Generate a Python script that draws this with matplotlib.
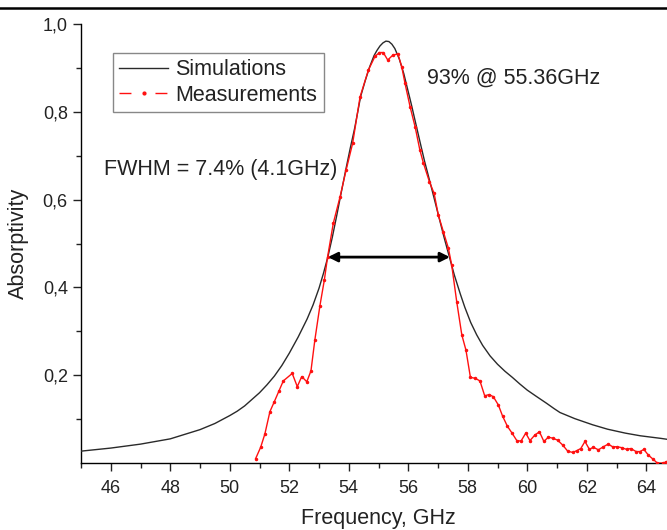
import matplotlib
matplotlib.use("Agg")
import matplotlib.pyplot as plt
from matplotlib.lines import Line2D
from matplotlib.ticker import FixedLocator, FuncFormatter

plt.rcParams['font.family'] = ['Liberation Sans', 'DejaVu Sans']

# Simulated absorptivity
sim_freq = [45.0, 46.0, 47.0, 48.0, 49.0, 49.5, 50.0, 50.25, 50.5, 50.75, 51.0, 51.25,
            51.5, 51.75, 52.0, 52.3, 52.6, 52.8, 53.0, 53.15, 53.3, 53.45, 53.6, 53.75,
            53.9, 54.05, 54.2, 54.4, 54.55, 54.7, 54.85, 54.95, 55.05, 55.15, 55.25,
            55.35, 55.45, 55.55, 55.7, 55.85, 56.1, 56.25, 56.4, 56.55, 56.75, 56.9,
            57.05, 57.2, 57.4, 57.55, 57.75, 57.9, 58.1, 58.3, 58.5, 58.75, 59.0, 59.25,
            59.5, 59.75, 60.0, 60.3, 60.65, 60.9, 61.1, 61.6, 62.2, 62.7, 63.3, 63.8,
            64.5, 65.0]
sim_abs = [0.027, 0.034, 0.043, 0.055, 0.076, 0.090, 0.108, 0.118, 0.130, 0.145, 0.160,
           0.178, 0.198, 0.222, 0.250, 0.287, 0.328, 0.360, 0.398, 0.432, 0.470, 0.515,
           0.565, 0.617, 0.668, 0.717, 0.763, 0.835, 0.870, 0.902, 0.928, 0.940, 0.950,
           0.957, 0.961, 0.960, 0.954, 0.944, 0.920, 0.887, 0.818, 0.774, 0.730, 0.687,
           0.635, 0.595, 0.555, 0.515, 0.465, 0.428, 0.385, 0.355, 0.320, 0.292, 0.268,
           0.244, 0.225, 0.209, 0.195, 0.180, 0.166, 0.152, 0.136, 0.124, 0.115, 0.101,
           0.087, 0.077, 0.068, 0.062, 0.056, 0.051]

# Measured absorptivity
meas_freq = [50.87, 51.04, 51.18, 51.35, 51.50, 51.66, 51.80, 52.10, 52.27, 52.42, 52.59,
             52.73, 52.86, 53.03, 53.18, 53.29, 53.48, 53.71, 53.91, 54.13, 54.38, 54.66,
             54.88, 55.03, 55.16, 55.31, 55.48, 55.65, 55.78, 55.89, 56.06, 56.23, 56.39,
             56.51, 56.71, 56.87, 57.01, 57.18, 57.35, 57.46, 57.63, 57.80, 57.94, 58.09,
             58.25, 58.41, 58.57, 58.72, 58.86, 59.03, 59.17, 59.33, 59.48, 59.65, 59.79,
             59.95, 60.09, 60.26, 60.41, 60.56, 60.71, 60.88, 61.02, 61.19, 61.36, 61.53,
             61.66, 61.80, 61.94, 62.09, 62.22, 62.39, 62.56, 62.72, 62.87, 63.03, 63.17,
             63.34, 63.48, 63.66, 63.79, 63.92, 64.07, 64.24, 64.37, 64.57, 64.68]
meas_abs = [0.010, 0.036, 0.066, 0.117, 0.140, 0.165, 0.187, 0.204, 0.174, 0.197, 0.185,
            0.210, 0.280, 0.358, 0.417, 0.470, 0.546, 0.607, 0.667, 0.728, 0.834, 0.895,
            0.926, 0.935, 0.935, 0.918, 0.929, 0.932, 0.903, 0.865, 0.812, 0.766, 0.713,
            0.683, 0.641, 0.614, 0.565, 0.527, 0.489, 0.451, 0.367, 0.292, 0.257, 0.195,
            0.193, 0.187, 0.153, 0.156, 0.151, 0.132, 0.107, 0.084, 0.069, 0.051, 0.050,
            0.068, 0.051, 0.064, 0.071, 0.049, 0.059, 0.056, 0.052, 0.041, 0.027, 0.024,
            0.028, 0.033, 0.049, 0.031, 0.036, 0.030, 0.037, 0.043, 0.037, 0.037, 0.035,
            0.031, 0.033, 0.026, 0.026, 0.031, 0.018, 0.008, 0.000, 0.000, 0.003]

x_major = [46, 48, 50, 52, 54, 56, 58, 60, 62, 64]
x_minor = [45, 47, 49, 51, 53, 55, 57, 59, 61, 63, 65]
y_major = [0.2, 0.4, 0.6, 0.8, 1.0]
y_minor = [0.1, 0.3, 0.5, 0.7, 0.9]

fwhm_left, fwhm_right, fwhm_level = 53.30, 57.40, 0.469

W, H = 667, 530
fig = plt.figure(figsize=(W / 100, H / 100), dpi=100)
ax = fig.add_axes([81 / W, 67 / H, 595 / W, 439 / H])

ax.plot(sim_freq, sim_abs, color='#2a2a2a', lw=1.0, zorder=3)
ax.plot(meas_freq, meas_abs, color='#ff1010', lw=1.0, marker='.', markersize=3, zorder=4)

ax.set_xlim(45, 65)
ax.set_ylim(0, 1.0)

for s in ['top', 'right']:
    ax.spines[s].set_visible(False)
for s in ['left', 'bottom']:
    ax.spines[s].set_linewidth(1.0)

ax.xaxis.set_major_locator(FixedLocator(x_major))
ax.xaxis.set_minor_locator(FixedLocator(x_minor))
ax.yaxis.set_major_locator(FixedLocator(y_major))
ax.yaxis.set_minor_locator(FixedLocator(y_minor))
ax.yaxis.set_major_formatter(FuncFormatter(lambda v, p: f"{v:.1f}".replace('.', ',')))
ax.tick_params(which='major', direction='out', length=6, width=1.0, labelsize=13, colors='#222222')
ax.tick_params(which='minor', direction='out', length=3.5, width=1.0, colors='#222222')
ax.tick_params(axis='x', pad=6)

ax.set_xlabel('Frequency, GHz', fontsize=15.5, labelpad=8, color='#222222')
ax.set_ylabel('Absorptivity', fontsize=15.5, labelpad=10, color='#222222')

ax.annotate('', xy=(fwhm_left, fwhm_level), xytext=(fwhm_right, fwhm_level),
            arrowprops=dict(arrowstyle='<|-|>', color='black', lw=2.0,
                            mutation_scale=14, shrinkA=0, shrinkB=0), zorder=5)

fig.text(427 / W, 1 - 78 / H, '93% @ 55.36GHz',
         fontsize=15.5, va='center', ha='left', color='#222222')
fig.text(104 / W, 1 - 170 / H, 'FWHM = 7.4% (4.1GHz)',
         fontsize=15.5, va='center', ha='left', color='#222222')

h_sim = Line2D([], [], color='#2a2a2a', lw=1.0)
h_meas = Line2D([], [], color='#ff1010', lw=1.0, linestyle=(0, (8.6, 17.3)),
                marker='.', markersize=4)
leg = fig.legend([h_sim, h_meas], ['Simulations', 'Measurements'],
                 loc='upper left', bbox_to_anchor=(113 / W, 1 - 53 / H),
                 fontsize=15.5, handlelength=2.25, handletextpad=0.35,
                 labelspacing=0.2, borderpad=0.3, borderaxespad=0,
                 frameon=True, fancybox=False, framealpha=1, numpoints=1)
leg.get_frame().set_edgecolor('#888888')
leg.get_frame().set_linewidth(1.0)
for t in leg.get_texts():
    t.set_color('#222222')

fig.add_artist(Line2D([0, 1], [1 - 7.5 / H, 1 - 7.5 / H], transform=fig.transFigure,
                      color='black', lw=1.8))

fig.savefig('out.png', dpi=100)
